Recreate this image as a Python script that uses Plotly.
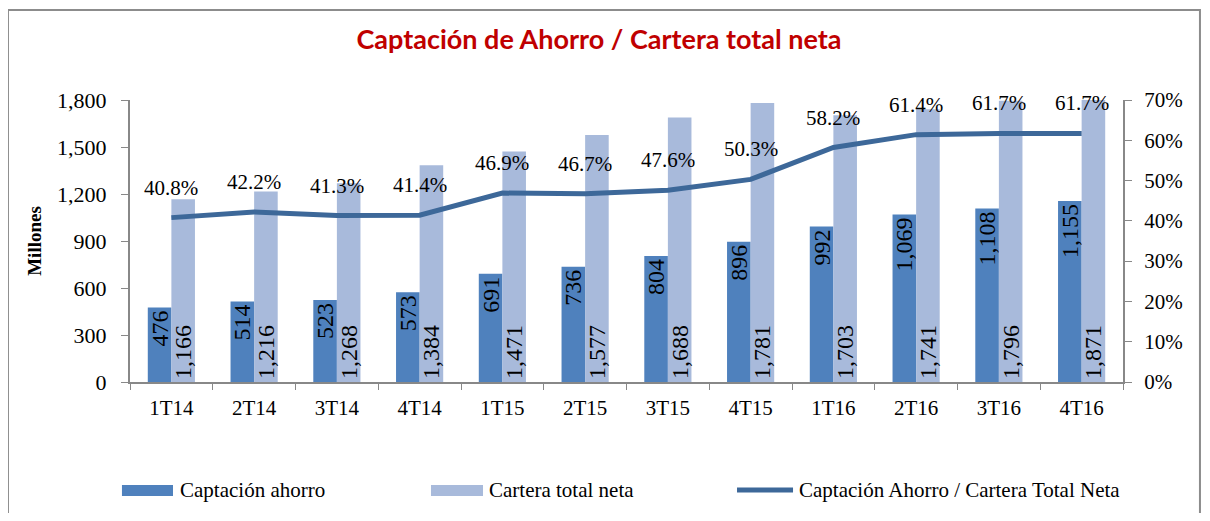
import plotly.graph_objects as go

periodos = ["1T14", "2T14", "3T14", "4T14", "1T15", "2T15", "3T15", "4T15", "1T16", "2T16", "3T16", "4T16"]
captacion = [476, 514, 523, 573, 691, 736, 804, 896, 992, 1069, 1108, 1155]
cartera = [1166, 1216, 1268, 1384, 1471, 1577, 1688, 1781, 1703, 1741, 1796, 1871]
ratio = [40.8, 42.2, 41.3, 41.4, 46.9, 46.7, 47.6, 50.3, 58.2, 61.4, 61.7, 61.7]

SERIF = "Liberation Serif, Times New Roman, serif"
AXIS_GRAY = "#888888"
C_AHORRO = "#4F81BD"
C_CARTERA = "#A8BADB"
C_RATIO = "#3D6899"

fig = go.Figure()
fig.add_bar(
    x=periodos, y=captacion, name="Captación ahorro",
    marker=dict(color=C_AHORRO, line=dict(width=0)),
    text=[f"{v:,}" for v in captacion], textposition="inside",
    textangle=-90, insidetextanchor="end", constraintext="none",
    textfont=dict(family=SERIF, size=24, color="black"),
)
fig.add_bar(
    x=periodos, y=cartera, name="Cartera total neta",
    marker=dict(color=C_CARTERA, line=dict(width=0)),
    text=[f"{v:,}" for v in cartera], textposition="inside",
    textangle=-90, insidetextanchor="start", constraintext="none",
    textfont=dict(family=SERIF, size=24, color="black"),
)
fig.add_trace(go.Scatter(
    x=periodos, y=ratio, name="Captación Ahorro / Cartera Total Neta",
    mode="lines", yaxis="y2",
    line=dict(color=C_RATIO, width=5),
))

# etiquetas de porcentaje sobre la línea
for p, r in zip(periodos, ratio):
    fig.add_annotation(
        x=p, y=r, xref="x", yref="y2", text=f"{r:.1f}%",
        showarrow=False, yshift=30,
        font=dict(family=SERIF, size=21, color="black"),
    )

# marco exterior del gráfico
fig.add_shape(
    type="rect", xref="paper", yref="paper",
    x0=-0.1229, x1=1.0775, y0=-0.75, y1=1.319,
    line=dict(color="#8C8C8C", width=2), layer="below",
)

# leyenda dibujada a mano (muestras anchas como en Excel)
leyenda = [
    ("Captación ahorro", C_AHORRO, "bar", -0.0081, 0.0433, 0.0483),
    ("Cartera total neta", C_CARTERA, "bar", 0.3031, 0.3555, 0.3595),
    ("Captación Ahorro / Cartera Total Neta", C_RATIO, "line", 0.6113, 0.6677, 0.6717),
]
for nombre, color, tipo, x0, x1, xt in leyenda:
    if tipo == "bar":
        fig.add_shape(type="rect", xref="paper", yref="paper",
                      x0=x0, x1=x1, y0=-0.4043, y1=-0.3652,
                      fillcolor=color, line=dict(width=0))
    else:
        fig.add_shape(type="line", xref="paper", yref="paper",
                      x0=x0, x1=x1, y0=-0.383, y1=-0.383,
                      line=dict(color=color, width=5))
    fig.add_annotation(x=xt, y=-0.383, xref="paper", yref="paper",
                       xanchor="left", yanchor="middle", showarrow=False,
                       text=nombre, font=dict(family=SERIF, size=21, color="black"))

fig.update_layout(
    width=1194, height=505,
    margin=dict(l=122, r=79, t=92, b=131),
    paper_bgcolor="white", plot_bgcolor="white",
    title=dict(
        text="<b>Captación de Ahorro / Cartera total neta</b>",
        x=0.495, xanchor="center", y=0.9366, yanchor="middle",
        font=dict(family="Lato, Open Sans, sans-serif", size=27, color="#C00000"),
    ),
    barmode="group", bargap=0.43, bargroupgap=0,
    showlegend=False,
    xaxis=dict(
        showline=True, linecolor=AXIS_GRAY, linewidth=2,
        ticks="outside", tickson="boundaries", ticklen=6, tickcolor=AXIS_GRAY,
        ticklabelstandoff=6,
        tickfont=dict(family=SERIF, size=21, color="black"),
        showgrid=False,
    ),
    yaxis=dict(
        range=[0, 1800], dtick=300, tickformat=",d",
        showline=True, linecolor=AXIS_GRAY, linewidth=2,
        ticks="outside", ticklen=7, tickcolor=AXIS_GRAY,
        ticklabelstandoff=10,
        tickfont=dict(family=SERIF, size=22, color="black"),
        showgrid=False, zeroline=False,
        title=dict(text="<b>Millones</b>", font=dict(family=SERIF, size=19, color="black"), standoff=10),
    ),
    yaxis2=dict(
        range=[0, 70], dtick=10, ticksuffix="%", overlaying="y", side="right",
        showline=True, linecolor=AXIS_GRAY, linewidth=2,
        ticks="outside", ticklen=7, tickcolor=AXIS_GRAY,
        ticklabelstandoff=8,
        tickfont=dict(family=SERIF, size=21, color="black"),
        showgrid=False, zeroline=False,
    ),
)

fig.write_html("out.html")
